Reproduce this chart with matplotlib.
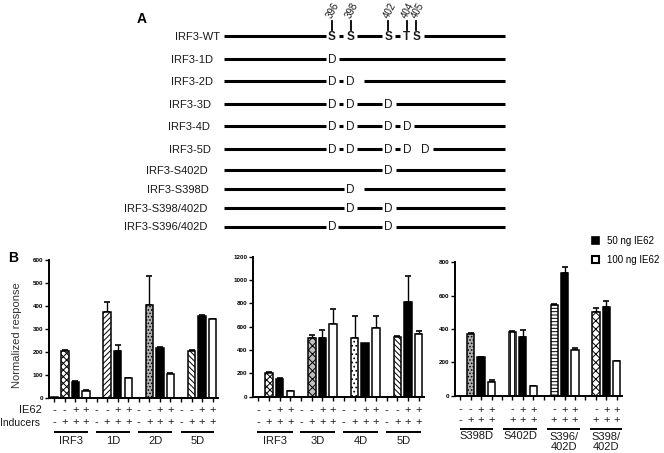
import matplotlib
matplotlib.use("Agg")
import matplotlib.pyplot as plt
import matplotlib.transforms as mtrans
from matplotlib.patches import Patch
import numpy as np

plt.rcParams['font.family'] = ['Liberation Sans', 'DejaVu Sans']
plt.rcParams['hatch.linewidth'] = 0.7

# ---------------- Panel A data ----------------
residues = [396, 398, 402, 404, 405]
wt_letters = ["S", "S", "S", "T", "S"]
construct_names = ["IRF3-WT", "IRF3-1D", "IRF3-2D", "IRF3-3D", "IRF3-4D",
                   "IRF3-5D", "IRF3-S402D", "IRF3-S398D", "IRF3-S398/402D",
                   "IRF3-S396/402D"]
construct_mutations = [[], [396], [396, 398], [396, 398, 402],
                       [396, 398, 402, 404], [396, 398, 402, 404, 405],
                       [402], [398], [398, 402], [396, 402]]

# ---------------- Panel B data ----------------
ie62_row = ["-", "-", "+", "+"]
inducer_row = ["-", "+", "+", "+"]

p1_groups = ["IRF3", "1D", "2D", "5D"]
p1_values = [[3, 205, 68, 30], [0, 375, 203, 85], [0, 405, 218, 105], [0, 205, 358, 342]]
p1_errors = [[0, 4, 3, 2], [0, 40, 25, 2], [0, 125, 4, 3], [0, 3, 4, 2]]

p2_groups = ["IRF3", "3D", "4D", "5D"]
p2_values = [[0, 205, 155, 50], [0, 505, 505, 625], [0, 505, 460, 590], [0, 515, 815, 535]]
p2_errors = [[0, 5, 3, 3], [0, 22, 70, 125], [0, 190, 0, 105], [0, 3, 220, 25]]

p3_groups = ["S398D", "S402D", "S396/\n402D", "S398/\n402D"]
p3_values = [[0, 370, 232, 85], [0, 383, 350, 57], [0, 545, 735, 272], [0, 500, 533, 207]]
p3_errors = [[0, 4, 3, 12], [0, 5, 45, 3], [0, 5, 35, 15], [0, 27, 33, 3]]
p3_shown = [[1, 1, 1, 1], [0, 1, 1, 1], [0, 1, 1, 1], [0, 1, 1, 1]]

legend_labels = ["50 ng IE62", "100 ng IE62"]

# ---------------- figure ----------------
W, H = 664, 453
fig = plt.figure(figsize=(W / 100, H / 100), dpi=100)


def fx(px):
    return px / W


def fy(py):
    return 1 - py / H


# ---------- Panel A schematic (x axis in residue units) ----------
axA = fig.add_axes([0, 0, 1, 1])
px_per_res = 9.373
res0_px = 378.7 - 401 * px_per_res
axA.set_xlim(-res0_px / px_per_res, (W - res0_px) / px_per_res)
axA.set_ylim(H, 0)
axA.axis('off')


def px2res(px):
    return (px - res0_px) / px_per_res


line_start = px2res(224)
line_end = px2res(505)
gap = 0.65
dash_pairs = {(396, 398), (402, 404)}
lw_line = 2.2
label_right_px = [220, 213, 213, 211, 210, 211, 208, 209, 207, 207]
txt_col = '#1a1a1a'

for i, (name, muts) in enumerate(zip(construct_names, construct_mutations)):
    y = 36.2 + 22.5 * i if i < 6 else 170.1 + 18.8 * (i - 6)
    if muts:
        shown, letters, weight = muts, ["D"] * len(muts), 'normal'
        # the 405 D sits a little further right when 404 is also mutated
        xpos = [r + (1.0 if (r == 405 and 404 in muts) else 0) for r in muts]
    else:
        shown, letters, weight = residues, wt_letters, 'bold'
        xpos = list(residues)
    segs = [(line_start, xpos[0] - gap)]
    for (a, b), (xa, xb) in zip(zip(shown[:-1], shown[1:]), zip(xpos[:-1], xpos[1:])):
        if (a, b) in dash_pairs:
            m = (xa + xb) / 2
            segs.append((m - 0.22, m + 0.22))
        elif (a, b) == (404, 405):
            continue
        else:
            segs.append((xa + gap, xb - gap))
    tail = 1.4 if shown[-1] == 398 else gap + 0.15
    segs.append((xpos[-1] + tail, line_end))
    for s, e in segs:
        axA.plot([s, e], [y, y], color='black', lw=lw_line, solid_capstyle='butt')
    for xr, l in zip(xpos, letters):
        axA.text(xr, y + 4, l, ha='center', va='baseline', fontsize=8.5,
                 fontweight=weight, color=txt_col)
    axA.text(px2res(label_right_px[i]), y + 4, name,
             ha='right', va='baseline', fontsize=8, color=txt_col)

for r in residues:
    axA.plot([r, r], [21, 29.5], color='black', lw=1.3)
    axA.text(r - 0.25, 17.5, str(r), rotation=62, rotation_mode='anchor',
             ha='left', va='center', fontsize=7, color=txt_col)

fig.text(fx(142), fy(19), "A", ha='center', va='center', fontsize=10,
         fontweight='bold')

# ---------- Panel B ----------
panels = [
    dict(box=(49, 260, 218, 397.7), groups=p1_groups, values=p1_values,
         errors=p1_errors, shown=None, ymax=600, ystep=100,
         styles=[('white', 'xxxxx'), ('white', '//////'), ('#b0b0b0', '.....'), ('white', '\\\\\\\\\\\\')],
         spans=[(-0.05, 3.15)] * 4, rows=(410, 422.5), uline=432, glab=441.5),
    dict(box=(253, 256.7, 424, 396.7), groups=p2_groups, values=p2_values,
         errors=p2_errors, shown=None, ymax=1200, ystep=200,
         styles=[('white', 'xxxxx'), ('#c0c0c0', 'xxxx'), ('white', '....'), ('white', '\\\\\\\\\\\\')],
         spans=[(-0.1, 3.2)] * 4, rows=(410, 422.5), uline=432, glab=441.5),
    dict(box=(455, 262.3, 622, 395.7), groups=p3_groups, values=p3_values,
         errors=p3_errors, shown=p3_shown, ymax=800, ystep=200,
         styles=[('#b0b0b0', '.....'), ('white', '||||'), ('white', '-----'), ('white', 'xxxx')],
         spans=[(0.0, 3.15), (0.1, 3.35), (0.3, 3.5), (0.4, 3.5)],
         rows=(409.5, 420.5), uline=428.5, glab=436),
]

for P in panels:
    x0, y0, x1, y1 = P['box']
    ax = fig.add_axes([fx(x0), fy(y1), fx(x1 - x0), (y1 - y0) / H])
    vals = np.array(P['values'], dtype=float).ravel()
    errs = np.array(P['errors'], dtype=float).ravel()
    n = len(vals)
    xs = np.arange(n)
    for k in range(n):
        g, s = divmod(k, 4)
        if s == 2:
            fc, hatch = 'black', None
        elif s == 1:
            fc, hatch = P['styles'][g]
        else:
            fc, hatch = 'white', None
        ax.bar(xs[k], vals[k], width=0.7, color=fc, edgecolor='black',
               linewidth=1.1, hatch=hatch, zorder=2)
    m = errs > 0
    ax.errorbar(xs[m], vals[m], yerr=[np.zeros(m.sum()), errs[m]], fmt='none',
                ecolor='black', elinewidth=1.0, capsize=2, capthick=1.2, zorder=1)
    ax.set_xlim(-0.5, n - 0.5)
    ax.set_ylim(0, P['ymax'])
    ax.set_yticks(np.arange(0, P['ymax'] + 1, P['ystep']))
    ax.set_xticks(xs)
    ax.tick_params(axis='x', length=3, width=1, labelbottom=False)
    ax.tick_params(axis='y', length=3, width=1, pad=1, labelsize=4.5)
    for lab in ax.get_yticklabels():
        lab.set_fontweight('bold')
    for sp in ['top', 'right']:
        ax.spines[sp].set_visible(False)
    for sp in ['left', 'bottom']:
        ax.spines[sp].set_linewidth(1.4)
    ax.patch.set_alpha(0)

    tr = mtrans.blended_transform_factory(ax.transData, fig.transFigure)
    r1, r2 = P['rows']
    for k in range(n):
        g, s = divmod(k, 4)
        if P['shown'] is not None and not P['shown'][g][s]:
            continue
        ax.text(xs[k], fy(r1), ie62_row[s], transform=tr, ha='center',
                va='center', fontsize=8, color=txt_col)
        ax.text(xs[k], fy(r2), inducer_row[s], transform=tr, ha='center',
                va='center', fontsize=8, color=txt_col)
    for g, name in enumerate(P['groups']):
        a, b = P['spans'][g]
        ax.plot([4 * g + a, 4 * g + b], [fy(P['uline'])] * 2, transform=tr,
                color='black', lw=1.4, clip_on=False, solid_capstyle='butt')
        nl = name.count('\n')
        ax.text(4 * g + (a + b) / 2, fy(P['glab'] + 6 * nl), name, transform=tr,
                ha='center', va='center', fontsize=8, color=txt_col,
                linespacing=1.08)

fig.text(fx(42), fy(410), "IE62", ha='right', va='center', fontsize=8, color=txt_col)
fig.text(fx(40), fy(422.5), "Inducers", ha='right', va='center', fontsize=7.5, color=txt_col)
fig.text(fx(17), fy(335), "Normalized response", rotation=90, ha='center',
         va='center', fontsize=8, color='#333333')
fig.text(fx(13), fy(258), "B", ha='center', va='center', fontsize=10,
         fontweight='bold')

handles = [Patch(facecolor='black', edgecolor='black', linewidth=1.2),
           Patch(facecolor='white', edgecolor='black', linewidth=1.5)]
fig.legend(handles=handles, labels=legend_labels, loc='upper left',
           bbox_to_anchor=(fx(588), fy(232)), frameon=False, fontsize=7,
           handlelength=0.75, handleheight=0.75, handletextpad=0.8,
           labelspacing=0.95, borderaxespad=0)

fig.savefig("out.png", dpi=100)
